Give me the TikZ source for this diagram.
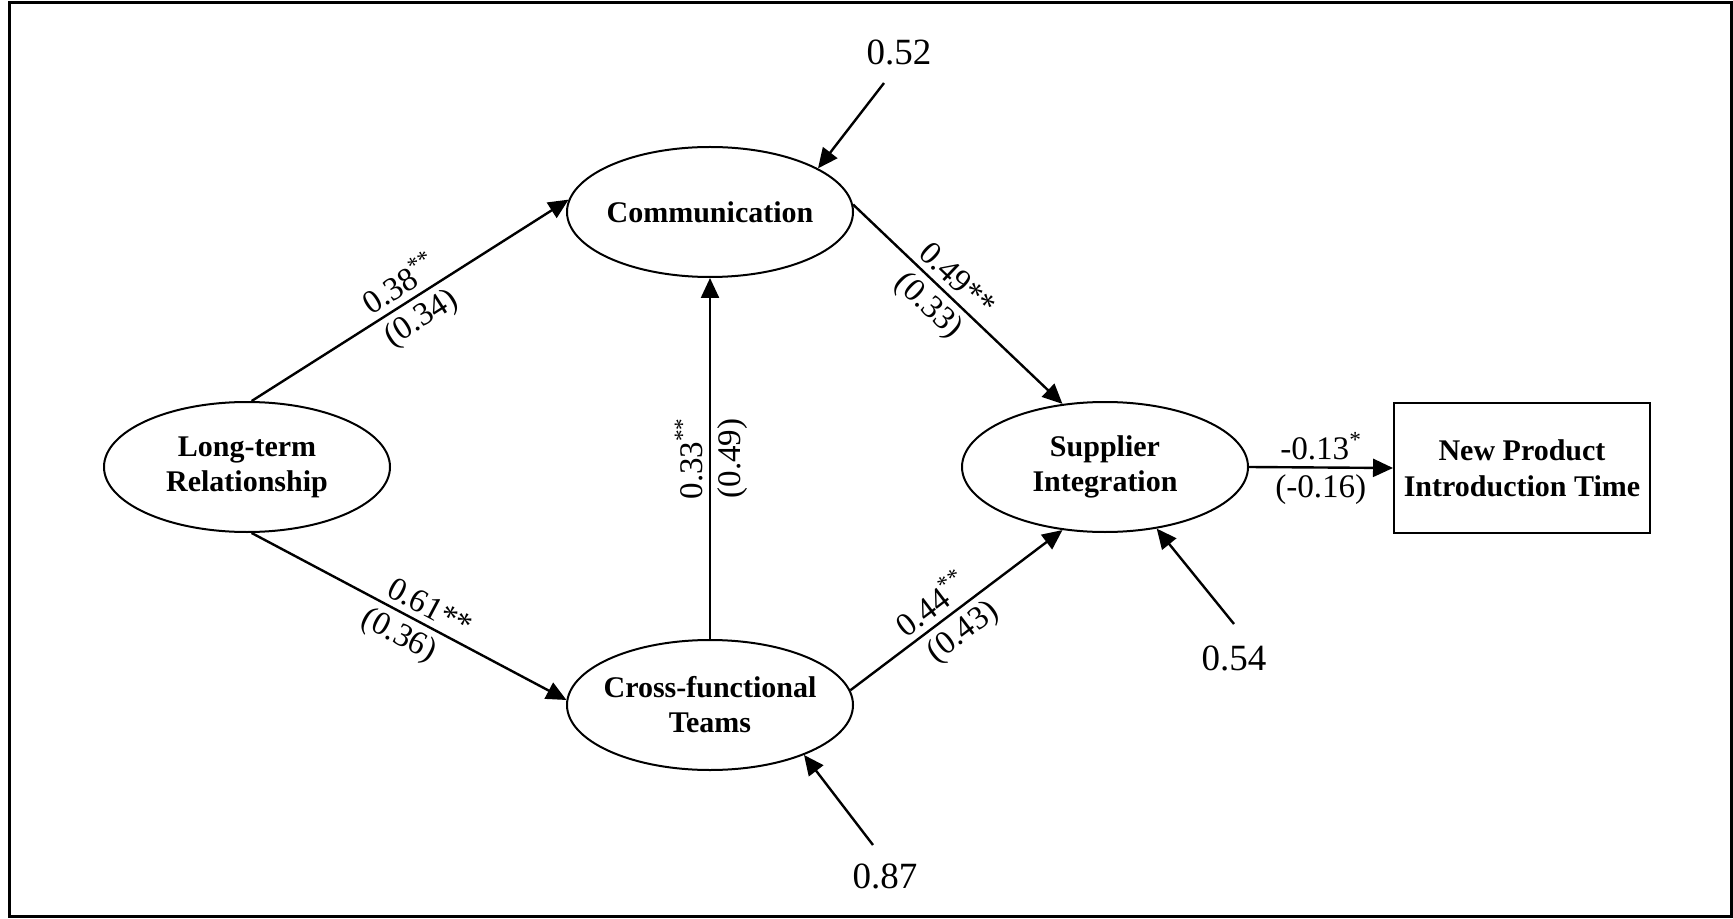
\documentclass[tikz,border=0pt]{standalone}
\usepackage{fontspec}
\setmainfont{Liberation Serif}
\usetikzlibrary{shapes.geometric,arrows.meta}
\begin{document}
\begin{tikzpicture}[x=0.5pt,y=-0.5pt,
  latent/.style={draw, ellipse, line width=1pt, minimum width=143pt, minimum height=65pt,
    inner sep=-15pt, align=center, font=\fontsize{15}{17.5}\selectfont\bfseries},
  observed/.style={draw, rectangle, line width=1pt, minimum width=128pt, minimum height=65pt,
    inner xsep=2pt, align=center, font=\fontsize{15}{18}\selectfont\bfseries},
  link/.style={line width=1.2pt, -{Triangle[length=10pt,width=9pt]}},
  coef/.style={font=\fontsize{16.5}{16.5}\selectfont, inner sep=3pt, sloped},
  err/.style={font=\fontsize{18.5}{18.5}\selectfont, inner sep=0pt}
]
\useasboundingbox (0,0) rectangle (1733,919);
\draw[line width=1.5pt] (9,3) rectangle (1731,916);

% constructs
\node[latent] (ltr)  at (247,467)  {Long-term\\Relationship};
\node[latent] (comm) at (710,212)  {Communication};
\node[latent] (cft)  at (710,705)  {Cross-functional\\Teams};
\node[latent] (si)   at (1105,467) {Supplier\\Integration};
\node[observed] (npit) at (1522,468) {New Product\\Introduction Time};

% error terms
\node[err] (e1) at (899,52)  {0.52};
\node[err] (e2) at (885,876) {0.87};
\node[err] (e3) at (1234,658) {0.54};
\coordinate (e1s) at (884,83);
\coordinate (e2s) at (873,845);
\coordinate (e3s) at (1234,624);

% structural paths
\draw[link] (ltr.86) -- (comm.175)
  node[coef, above, pos=0.5] {0.38\textsuperscript{**}}
  node[coef, below, pos=0.5] {(0.34)};
\draw[link] (ltr.-86) -- (cft.178)
  node[coef, above, pos=0.54] {0.61**}
  node[coef, below, pos=0.5] {(0.36)};
\draw[link] (cft.north) -- (comm.south)
  node[coef, above, pos=0.5] {0.33\textsuperscript{**}}
  node[coef, below, pos=0.5] {(0.49)};
\draw[link] (comm.3) -- (si.124)
  node[coef, above, pos=0.44] {0.49**}
  node[coef, below, pos=0.43] {(0.33)};
\draw[link] (cft.6) -- (si.236)
  node[coef, above, pos=0.44] {0.44\textsuperscript{**}}
  node[coef, below, pos=0.47] {(0.43)};
\draw[link] (si.east) -- (npit.west)
  node[coef, above, pos=0.5] {-0.13\textsuperscript{*}}
  node[coef, below, pos=0.5] {(-0.16)};

% disturbances
\draw[link] (e1s) -- (comm.22);
\draw[link] (e2s) -- (cft.-28);
\draw[link] (e3s) -- (si.-50);
\end{tikzpicture}
\end{document}
